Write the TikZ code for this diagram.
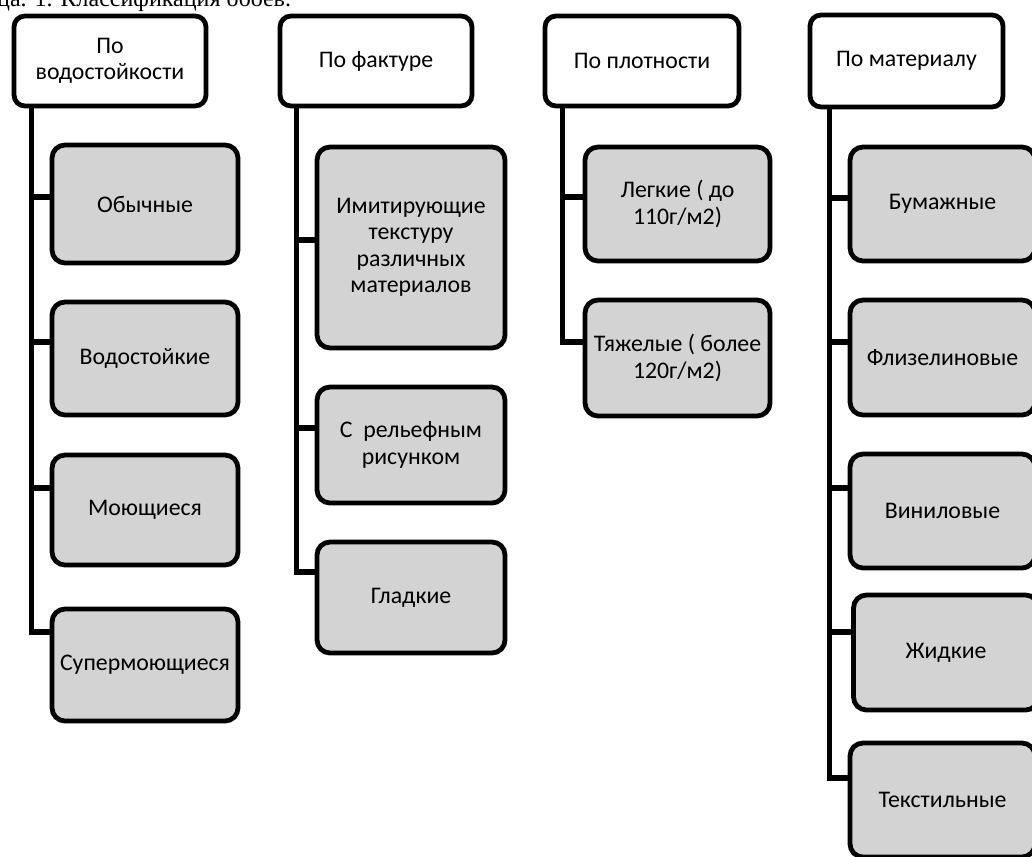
\documentclass[tikz,border=0pt]{standalone}
\usepackage{fontspec}
\setmainfont{Carlito}
\newfontfamily\capfont{Liberation Serif}
\usetikzlibrary{backgrounds}
\definecolor{boxgray}{RGB}{211,211,211}
\begin{document}
\begin{tikzpicture}[x=1pt,y=-1pt,
  every node/.style={font=\fontsize{23.8}{26.5}\selectfont, align=center, inner sep=2pt},
  headbox/.style={draw=black, line width=4.8pt, rounded corners=11pt, fill=white},
  itembox/.style={draw=black, line width=4.8pt, rounded corners=13pt, fill=boxgray},
  conn/.style={draw=black, line width=5.2pt}]
\useasboundingbox (0,0) rectangle (1032,856);
\clip (0,0) rectangle (1032,856);

% caption
\node[font=\capfont\fontsize{24}{28}\selectfont, anchor=base west, inner sep=0pt] (cap) at (-3,7) {ца. 1. Классификация обоев.};

% column 1: water resistance
\node[headbox, minimum width=192, minimum height=90] (h1) at (110,61) {По\\водостойкости};
\node[itembox, minimum width=186, minimum height=118] (o1) at (145,204) {Обычные};
\node[itembox, minimum width=186, minimum height=113] (o2) at (145,358.5) {Водостойкие};
\node[itembox, minimum width=186, minimum height=110] (o3) at (145,510) {Моющиеся};
\node[itembox, minimum width=186, minimum height=112] (o4) at (145,665) {Супермоющиеся};

% column 2: texture
\node[headbox, minimum width=192, minimum height=90] (h2) at (376,61) {По фактуре};
\node[itembox, minimum width=188, minimum height=201] (f1) at (411,247.5) {Имитирующие\\текстуру\\различных\\материалов};
\node[itembox, minimum width=188, minimum height=116] (f2) at (411,445) {С\ \ рельефным\\рисунком};
\node[itembox, minimum width=188, minimum height=111] (f3) at (411,597.5) {Гладкие};

% column 3: density
\node[headbox, minimum width=194, minimum height=90] (h3) at (642,61) {По плотности};
\node[itembox, minimum width=185, minimum height=114] (p1) at (677.5,204) {Легкие ( до\\110г/м2)};
\node[itembox, minimum width=185, minimum height=116] (p2) at (677.5,358) {Тяжелые ( более\\120г/м2)};

% column 4: material
\node[headbox, minimum width=193, minimum height=92] (h4) at (906.5,61) {По материалу};
\node[itembox, minimum width=185, minimum height=114] (m1) at (942.5,204) {Бумажные};
\node[itembox, minimum width=185, minimum height=115] (m2) at (942.5,357.5) {Флизелиновые};
\node[itembox, minimum width=185, minimum height=114] (m3) at (942.5,511) {Виниловые};
\node[itembox, minimum width=185, minimum height=115] (m4) at (946,652.5) {Жидкие};
\node[itembox, minimum width=185, minimum height=114] (m5) at (942.5,800) {Текстильные};

% connectors behind the boxes
\begin{pgfonlayer}{background}
\foreach \c/\y in {o1/197, o2/342, o3/488, o4/632}
  \draw[conn] ([xshift=20pt]h1.south west) |- (\c.west |- 0,\y);
\foreach \c/\y in {f1/240, f2/428, f3/572}
  \draw[conn] ([xshift=19pt]h2.south west) |- (\c.west |- 0,\y);
\foreach \c/\y in {p1/197, p2/342}
  \draw[conn] ([xshift=20pt]h3.south west) |- (\c.west |- 0,\y);
\foreach \c/\y in {m1/198, m2/342, m3/488, m4/632, m5/778}
  \draw[conn] ([xshift=22pt]h4.south west) |- (\c.west |- 0,\y);
\end{pgfonlayer}
\end{tikzpicture}
\end{document}
